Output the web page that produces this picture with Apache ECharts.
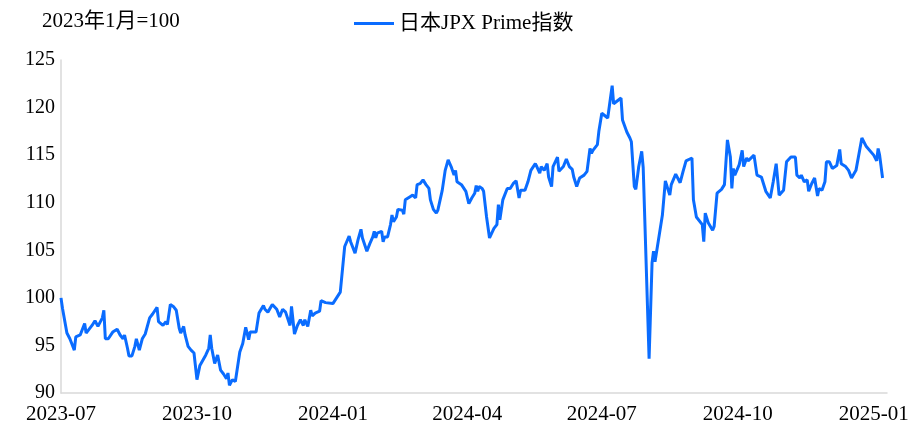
<!DOCTYPE html>
<html>
<head>
  <meta charset="utf8">
  <script src="https://cdn.jsdelivr.net/npm/echarts@6/dist/echarts.min.js"></script>
  <style>
    body { margin: 0; }
    #main { width: 916px; height: 430px; }
  </style>
</head>
<body>
<div id="main"></div>
<script type="text/javascript">
  // 日本JPX Prime指数 (2023年1月=100)
  var dates = [
    '2023-07-01','2023-07-02','2023-07-03','2023-07-05','2023-07-07','2023-07-08','2023-07-10','2023-07-11','2023-07-14','2023-07-15',
    '2023-07-17','2023-07-18','2023-07-19','2023-07-22','2023-07-23','2023-07-24','2023-07-26','2023-07-29','2023-07-30','2023-07-31',
    '2023-08-02','2023-08-05','2023-08-08','2023-08-10','2023-08-12','2023-08-13','2023-08-15','2023-08-16','2023-08-18','2023-08-20',
    '2023-08-21','2023-08-23','2023-08-25','2023-08-27','2023-08-30','2023-09-01','2023-09-04','2023-09-05','2023-09-08','2023-09-10',
    '2023-09-11','2023-09-13','2023-09-15','2023-09-17','2023-09-19','2023-09-20','2023-09-22','2023-09-23','2023-09-25','2023-09-27',
    '2023-09-29','2023-10-01','2023-10-03','2023-10-04','2023-10-07','2023-10-09','2023-10-10','2023-10-11','2023-10-13','2023-10-15',
    '2023-10-17','2023-10-19','2023-10-21','2023-10-22','2023-10-23','2023-10-25','2023-10-27','2023-10-28','2023-10-30','2023-11-01',
    '2023-11-03','2023-11-05','2023-11-06','2023-11-08','2023-11-10','2023-11-12','2023-11-15','2023-11-16','2023-11-18','2023-11-21',
    '2023-11-24','2023-11-26','2023-11-28','2023-11-30','2023-12-03','2023-12-04','2023-12-06','2023-12-08','2023-12-10','2023-12-12',
    '2023-12-13','2023-12-15','2023-12-17','2023-12-18','2023-12-20','2023-12-23','2023-12-24','2023-12-27','2024-01-01','2024-01-06',
    '2024-01-09','2024-01-12','2024-01-13','2024-01-16','2024-01-18','2024-01-20','2024-01-21','2024-01-22','2024-01-24','2024-01-26',
    '2024-01-28','2024-01-29','2024-01-30','2024-01-31','2024-02-03','2024-02-04','2024-02-05','2024-02-07','2024-02-09','2024-02-10',
    '2024-02-11','2024-02-13','2024-02-14','2024-02-17','2024-02-18','2024-02-19','2024-02-22','2024-02-24','2024-02-26','2024-02-27',
    '2024-02-29','2024-03-02','2024-03-04','2024-03-06','2024-03-07','2024-03-09','2024-03-11','2024-03-12','2024-03-15','2024-03-17',
    '2024-03-19','2024-03-21','2024-03-23','2024-03-24','2024-03-25','2024-03-26','2024-03-28','2024-03-29','2024-03-31','2024-04-01',
    '2024-04-02','2024-04-04','2024-04-06','2024-04-07','2024-04-08','2024-04-09','2024-04-11','2024-04-12','2024-04-14','2024-04-15',
    '2024-04-16','2024-04-19','2024-04-21','2024-04-22','2024-04-23','2024-04-25','2024-04-28','2024-04-30','2024-05-02','2024-05-04',
    '2024-05-06','2024-05-07','2024-05-10','2024-05-12','2024-05-14','2024-05-17','2024-05-18','2024-05-20','2024-05-21','2024-05-23',
    '2024-05-25','2024-05-26','2024-05-28','2024-05-29','2024-06-01','2024-06-02','2024-06-05','2024-06-07','2024-06-09','2024-06-11',
    '2024-06-12','2024-06-14','2024-06-16','2024-06-19','2024-06-21','2024-06-23','2024-06-24','2024-06-25','2024-06-28','2024-06-29',
    '2024-07-01','2024-07-05','2024-07-08','2024-07-09','2024-07-14','2024-07-15','2024-07-18','2024-07-20','2024-07-21','2024-07-23',
    '2024-07-24','2024-07-26','2024-07-28','2024-07-29','2024-08-02','2024-08-04','2024-08-05','2024-08-06','2024-08-11','2024-08-12',
    '2024-08-13','2024-08-16','2024-08-17','2024-08-20','2024-08-23','2024-08-25','2024-08-27','2024-08-31','2024-09-01','2024-09-03',
    '2024-09-07','2024-09-08','2024-09-09','2024-09-11','2024-09-14','2024-09-15','2024-09-17','2024-09-20','2024-09-22','2024-09-24',
    '2024-09-26','2024-09-27','2024-09-28','2024-09-29','2024-10-02','2024-10-04','2024-10-05','2024-10-07','2024-10-08','2024-10-12',
    '2024-10-14','2024-10-17','2024-10-18','2024-10-20','2024-10-23','2024-10-25','2024-10-27','2024-10-29','2024-11-01','2024-11-02',
    '2024-11-03','2024-11-06','2024-11-09','2024-11-10','2024-11-12','2024-11-13','2024-11-15','2024-11-17','2024-11-18','2024-11-20',
    '2024-11-22','2024-11-24','2024-11-25','2024-11-27','2024-11-29','2024-11-30','2024-12-02','2024-12-04','2024-12-07','2024-12-09',
    '2024-12-10','2024-12-13','2024-12-15','2024-12-17','2024-12-20','2024-12-21','2024-12-24','2024-12-27','2025-01-01','2025-01-03',
    '2025-01-04','2025-01-05','2025-01-07'
  ];
  var values = [
    100.0, 98.9, 98.7, 96.3, 95.7, 95.3, 94.5, 95.9, 96.1, 96.3,
    97.3, 96.3, 96.4, 97.1, 96.9, 97.6, 97.0, 97.9, 98.7, 95.7,
    95.7, 96.4, 96.7, 96.1, 95.7, 96.1, 94.7, 93.9, 93.9, 94.9,
    95.7, 94.5, 95.7, 96.2, 97.9, 98.3, 99.0, 97.5, 97.1, 97.5,
    97.2, 99.3, 99.1, 98.7, 96.8, 96.3, 97.0, 96.1, 94.9, 94.5,
    94.2, 91.4, 92.9, 92.8, 94.0, 94.7, 96.1, 94.7, 93.1, 94.0,
    92.4, 92.0, 91.5, 92.1, 90.8, 91.4, 91.2, 91.4, 94.3, 95.2,
    96.9, 95.6, 96.4, 96.4, 96.4, 98.4, 99.2, 98.8, 98.5, 99.3,
    98.8, 98.0, 98.8, 98.5, 97.1, 99.1, 96.2, 97.1, 97.7, 97.1,
    97.7, 97.0, 98.7, 98.1, 98.4, 98.6, 99.7, 99.5, 99.4, 100.6,
    105.4, 106.5, 105.9, 104.7, 106.1, 107.2, 106.3, 106.1, 104.9, 105.7,
    106.4, 107.0, 106.3, 106.8, 107.0, 105.9, 106.4, 106.4, 107.7, 108.7,
    108.0, 108.5, 109.3, 109.2, 108.8, 110.3, 110.6, 110.8, 110.5, 111.9,
    112.0, 112.4, 111.9, 111.5, 110.3, 109.3, 108.9, 109.2, 111.3, 113.4,
    114.5, 113.8, 112.9, 113.4, 112.2, 112.4, 111.9, 111.9, 111.2, 111.3,
    109.9, 110.5, 111.0, 111.8, 111.2, 111.7, 111.5, 111.2, 108.5, 108.5,
    106.3, 107.3, 107.7, 109.8, 108.2, 110.3, 111.5, 111.5, 112.0, 112.3,
    110.5, 111.3, 111.3, 112.2, 113.4, 114.1, 113.8, 113.1, 113.8, 113.4,
    114.1, 112.7, 111.7, 113.8, 114.8, 113.3, 113.8, 114.6, 113.8, 113.5,
    112.7, 111.7, 112.6, 112.9, 113.3, 115.7, 115.2, 115.5, 116.1, 117.5,
    119.4, 118.9, 122.3, 120.4, 121.0, 118.7, 117.4, 116.8, 116.4, 111.7,
    111.4, 113.8, 115.4, 113.7, 93.6, 103.7, 104.9, 103.8, 108.7, 108.9,
    112.3, 110.8, 111.9, 113.0, 112.1, 113.3, 114.4, 114.7, 110.3, 108.5,
    107.7, 105.9, 108.9, 107.9, 107.1, 107.5, 111.0, 111.4, 111.9, 116.6,
    114.8, 111.5, 113.6, 112.9, 114.0, 115.5, 113.8, 114.7, 114.4, 115.0,
    112.9, 112.7, 112.6, 111.2, 110.5, 112.2, 114.1, 110.8, 111.3, 111.5,
    114.3, 114.8, 114.8, 112.9, 112.6, 112.9, 112.2, 112.4, 111.2, 112.0,
    112.6, 110.7, 111.5, 111.3, 112.2, 114.3, 114.3, 113.6, 113.9, 115.6,
    114.1, 113.8, 113.4, 112.6, 113.4, 113.6, 116.8, 115.9, 115.0, 114.4,
    115.7, 115.0, 112.6
  ];
  var yTicks = [90, 95, 100, 105, 110, 115, 120, 125];
  var unitText = '2023年1月=100';
  var seriesName = '日本JPX Prime指数';

  var seriesData = [];
  for (var i = 0; i < dates.length; i++) {
      seriesData.push([dates[i], values[i]]);
  }

  var font = '"Liberation Serif", "Times New Roman", "Noto Sans CJK SC", serif';
  var myChart = echarts.init(document.getElementById('main'));
  var option = {
      animation: false,
      title: {
          text: unitText,
          left: 37,
          top: 6,
          textStyle: { fontFamily: font, fontSize: 21, fontWeight: 'normal', color: '#000' }
      },
      legend: {
          data: [seriesName],
          left: 349,
          top: 8,
          itemWidth: 40,
          itemHeight: 3,
          itemGap: 6,
          icon: 'rect',
          textStyle: { fontFamily: font, fontSize: 21, color: '#000' }
      },
      grid: { left: 61, right: 29, top: 60, bottom: 37, containLabel: false },
      xAxis: {
          type: 'time',
          min: '2023-07-01',
          max: '2025-01-10',
          minInterval: 80 * 24 * 3600 * 1000,
          maxInterval: 100 * 24 * 3600 * 1000,
          axisLine: { lineStyle: { color: '#d9d9d9', width: 1.5 } },
          axisTick: { show: false },
          splitLine: { show: false },
          axisLabel: {
              fontFamily: font,
              fontSize: 21,
              color: '#000',
              margin: 11,
              showMaxLabel: false,
              hideOverlap: false,
              formatter: function (v) {
                  var d = new Date(v);
                  var m = d.getMonth() + 1;
                  return d.getFullYear() + '-' + (m < 10 ? '0' + m : m);
              }
          }
      },
      yAxis: {
          type: 'value',
          min: yTicks[0],
          max: yTicks[yTicks.length - 1],
          interval: 5,
          axisLine: { show: true, lineStyle: { color: '#d9d9d9', width: 1.5 } },
          axisTick: { show: false },
          splitLine: { show: false },
          axisLabel: { fontFamily: font, fontSize: 20, color: '#000', margin: 6 }
      },
      series: [
          {
              name: seriesName,
              type: 'line',
              data: seriesData,
              showSymbol: false,
              symbol: 'none',
              lineStyle: { color: '#0a6cff', width: 3 },
              itemStyle: { color: '#0a6cff' }
          }
      ]
  };
  myChart.setOption(option);
</script>
</body>
</html>
